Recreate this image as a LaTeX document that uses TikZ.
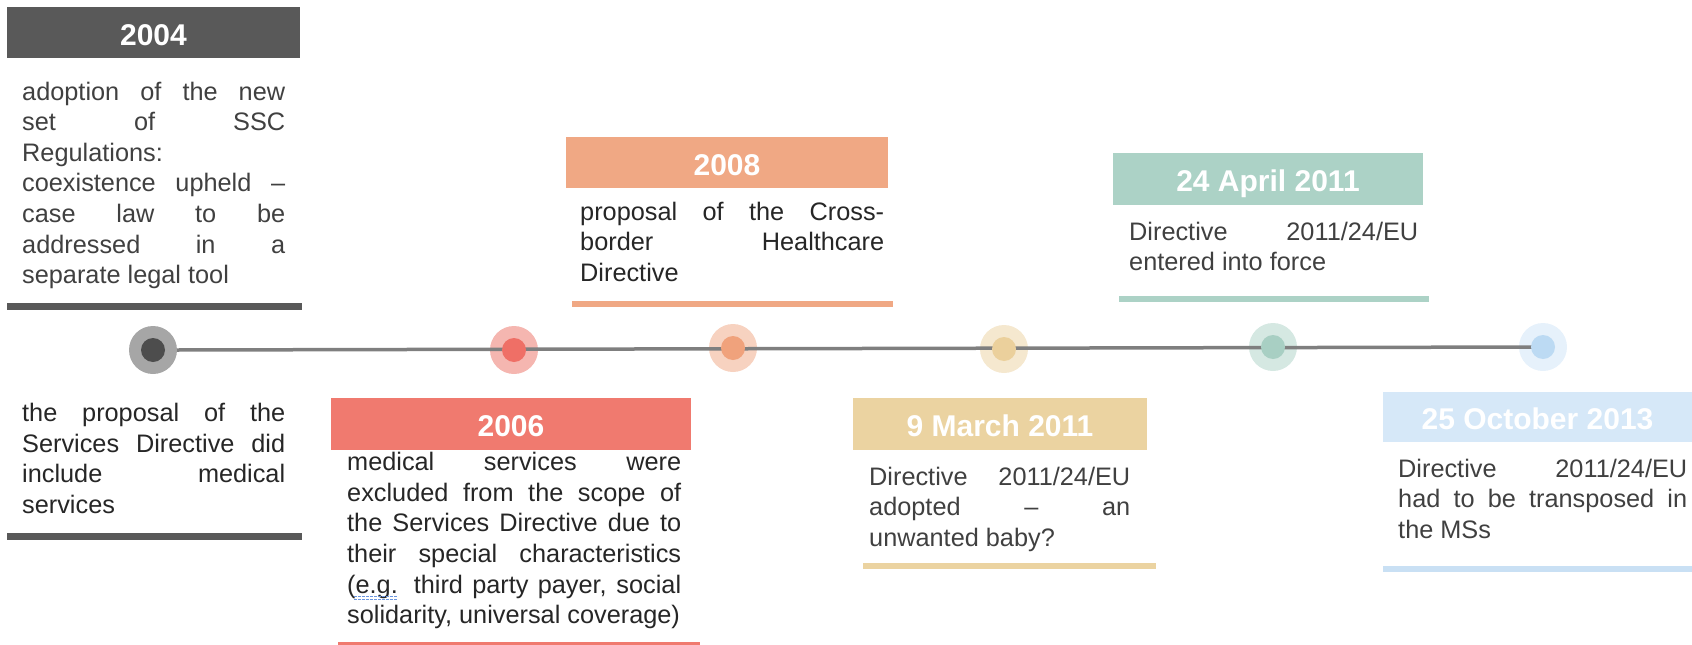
\documentclass[tikz,border=0pt]{standalone}
\usepackage{fontspec}
\setmainfont{Liberation Sans}
\definecolor{cA}{HTML}{595959}\definecolor{cAo}{HTML}{A6A6A6}\definecolor{cAi}{HTML}{4D4D4D}
\definecolor{cB}{HTML}{F07A6F}\definecolor{cBo}{HTML}{F5B6B0}\definecolor{cBi}{HTML}{EF6F66}
\definecolor{cC}{HTML}{F0A884}\definecolor{cCo}{HTML}{F7D2C0}\definecolor{cCi}{HTML}{F0A27C}
\definecolor{cD}{HTML}{EBD3A1}\definecolor{cDo}{HTML}{F5E8CF}\definecolor{cDi}{HTML}{EBD09C}
\definecolor{cE}{HTML}{ACD2C6}\definecolor{cEo}{HTML}{D5E8E2}\definecolor{cEi}{HTML}{A8CFC3}
\definecolor{cF}{HTML}{D6E8F8}\definecolor{cFo}{HTML}{E6F1FB}\definecolor{cFi}{HTML}{BCDAF3}\definecolor{cFb}{HTML}{C9E0F4}
\definecolor{txtA}{HTML}{404040}\definecolor{txtB}{HTML}{262626}
\definecolor{tline}{HTML}{7F7F7F}\definecolor{spell}{HTML}{6B96E0}
\begin{document}
\begin{tikzpicture}[x=1pt,y=-1pt,
  hdr/.style={fill=#1,draw=none,inner sep=0pt,text=white,
    font=\fontsize{30}{36}\selectfont\bfseries,text height=25.5pt,text depth=0pt},
  body/.style={inner sep=0pt,anchor=base west,align=justify,text=#1,
    font=\fontsize{25.3}{30.6}\selectfont},
  bar/.style={draw=#1,line cap=butt},
  outer/.style={circle,fill=#1,draw=none,minimum size=48pt,inner sep=0pt},
  inner/.style={circle,fill=#1,draw=none,minimum size=24pt,inner sep=0pt}]
\useasboundingbox (0,0) rectangle (1692,645);

% headers
\node[hdr=cA,minimum width=293pt,minimum height=51pt] (h2004) at (153.5,32.5) {2004};
\node[hdr=cB,minimum width=360pt,minimum height=52pt] (h2006) at (511,424) {2006};
\node[hdr=cC,minimum width=322pt,minimum height=51pt] (h2008) at (727,162.5) {2008};
\node[hdr=cD,minimum width=294pt,minimum height=52pt] (hMar) at (1000,424) {9 March 2011};
\node[hdr=cE,minimum width=310pt,minimum height=52pt] (hApr) at (1268,179) {24 April 2011};
\node[hdr=cF,minimum width=309pt,minimum height=50pt] (hOct) at (1537.5,417) {25 October 2013};

% bodies
\node[body=txtA,text width=263pt] (t2004) at (22,100)
 {adoption of the new\linebreak set of SSC\linebreak Regulations:\newline coexistence upheld --\linebreak case law to be\linebreak addressed in a\linebreak separate legal tool};
\node[body=txtB,text width=263pt] (t2004b) at (22,421.7)
 {the proposal of the\linebreak Services Directive did\linebreak include medical\linebreak services};
\node[body=txtB,text width=334pt] (t2006) at (347,470.7)
 {medical services were\linebreak excluded from the scope of\linebreak the Services Directive due to\linebreak their special characteristics\linebreak (e.g. third party payer, social\linebreak solidarity, universal coverage)};
\node[body=txtB,text width=304pt] (t2008) at (580,220)
 {proposal of the Cross-\linebreak border Healthcare\linebreak Directive};
\node[body=txtA,text width=261pt] (tMar) at (869,485)
 {Directive 2011/24/EU\linebreak adopted -- an\linebreak unwanted baby?};
\node[body=txtA,text width=289pt] (tApr) at (1129,240)
 {Directive 2011/24/EU\linebreak entered into force};
\node[body=txtA,text width=289pt] (tOct) at (1398,477)
 {Directive 2011/24/EU\linebreak had to be transposed in\linebreak the MSs};

% spell-check mark under e.g.
\draw[spell,line width=1pt,dash pattern=on 3pt off 1pt] (354,596.5) -- (397,596.5);
\draw[spell,line width=1pt,dash pattern=on 3pt off 1pt] (354,599.5) -- (397,599.5);

% bars
\draw[bar=cA,line width=7pt] (7,306) -- (302,306);
\draw[bar=cA,line width=7pt] (7,536) -- (302,536);
\draw[bar=cB,line width=4pt] (338,644) -- (700,644);
\draw[bar=cC,line width=6pt] (572,304) -- (893,304);
\draw[bar=cD,line width=6pt] (863,566) -- (1156,566);
\draw[bar=cE,line width=6pt] (1119,299) -- (1429,299);
\draw[bar=cFb,line width=6pt] (1383,569) -- (1692,569);

% timeline
\node[outer=cAo] (o2004) at (153,350) {};
\node[outer=cBo] (o2006) at (514,350) {};
\node[outer=cCo] (o2008) at (733,348) {};
\node[outer=cDo] (oMar) at (1004,349) {};
\node[outer=cEo] (oApr) at (1273,347) {};
\node[outer=cFo] (oOct) at (1543,347) {};
\draw[tline,line width=3.5pt] (o2004.east) -- (oOct.center);
\node[inner=cAi] (i2004) at (o2004.center) {};
\node[inner=cBi] (i2006) at (o2006.center) {};
\node[inner=cCi] (i2008) at (o2008.center) {};
\node[inner=cDi] (iMar) at (oMar.center) {};
\node[inner=cEi] (iApr) at (oApr.center) {};
\node[inner=cFi] (iOct) at (oOct.center) {};
\end{tikzpicture}
\end{document}
